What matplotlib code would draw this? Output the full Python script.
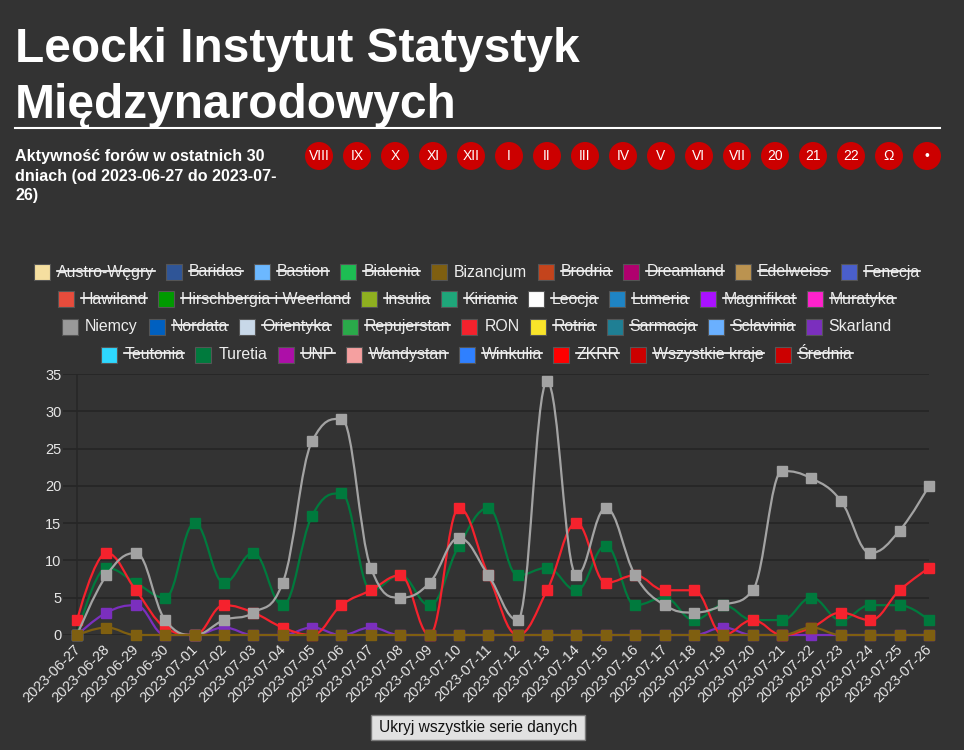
import numpy as np
import matplotlib
matplotlib.use('Agg')
import matplotlib.pyplot as plt
import matplotlib.transforms as mtransforms
from matplotlib.path import Path
from matplotlib.patches import PathPatch, Rectangle, Ellipse
from matplotlib.lines import Line2D

plt.rcParams['font.family'] = ['Liberation Sans', 'DejaVu Sans']

W, H = 964, 750
BG = '#333333'

title_lines = ['Leocki Instytut Statystyk', 'Międzynarodowych']
subtitle_lines = ['Aktywność forów w ostatnich 30',
                  'dniach (od 2023-06-27 do 2023-07-',
                  '26)']
buttons = ['VIII', 'IX', 'X', 'XI', 'XII', 'I', 'II', 'III', 'IV', 'V', 'VI', 'VII',
           '20', '21', '22', 'Ω', '•']

dates = ['2023-06-27', '2023-06-28', '2023-06-29', '2023-06-30', '2023-07-01',
         '2023-07-02', '2023-07-03', '2023-07-04', '2023-07-05', '2023-07-06',
         '2023-07-07', '2023-07-08', '2023-07-09', '2023-07-10', '2023-07-11',
         '2023-07-12', '2023-07-13', '2023-07-14', '2023-07-15', '2023-07-16',
         '2023-07-17', '2023-07-18', '2023-07-19', '2023-07-20', '2023-07-21',
         '2023-07-22', '2023-07-23', '2023-07-24', '2023-07-25', '2023-07-26']

bizancjum = [0, 1, 0, 0, 0, 0, 0, 0, 0, 0, 0, 0, 0, 0, 0,
             0, 0, 0, 0, 0, 0, 0, 0, 0, 0, 1, 0, 0, 0, 0]
niemcy = [0, 8, 11, 2, 0, 2, 3, 7, 26, 29, 9, 5, 7, 13, 8,
          2, 34, 8, 17, 8, 4, 3, 4, 6, 22, 21, 18, 11, 14, 20]
ron = [2, 11, 6, 1, 0, 4, 3, 1, 0, 4, 6, 8, 0, 17, 8,
       0, 6, 15, 7, 8, 6, 6, 0, 2, 0, 1, 3, 2, 6, 9]
skarland = [0, 3, 4, 0, 0, 1, 0, 0, 1, 0, 1, 0, 0, 0, 0,
            0, 0, 0, 0, 0, 0, 0, 1, 0, 0, 0, 0, 0, 0, 0]
turetia = [0, 9, 7, 5, 15, 7, 11, 4, 16, 19, 6, 8, 4, 12, 17,
           8, 9, 6, 12, 4, 5, 2, 4, 2, 2, 5, 2, 4, 4, 2]

series = [('Bizancjum', bizancjum, '#7f5f10'),
          ('Niemcy', niemcy, '#a3a3a3'),
          ('RON', ron, '#f5222d'),
          ('Skarland', skarland, '#7b2fbe'),
          ('Turetia', turetia, '#007a3d')]

legend_rows = [
    ['Austro-Węgry', 'Baridas', 'Bastion', 'Bialenia', 'Bizancjum', 'Brodria',
     'Dreamland', 'Edelweiss', 'Fenecja'],
    ['Hawiland', 'Hirschbergia i Weerland', 'Insulia', 'Kiriania', 'Leocja',
     'Lumeria', 'Magnifikat', 'Muratyka'],
    ['Niemcy', 'Nordata', 'Orientyka', 'Repujerstan', 'RON', 'Rotria',
     'Sarmacja', 'Sclavinia', 'Skarland'],
    ['Teutonia', 'Turetia', 'UNP', 'Wandystan', 'Winkulia', 'ZKRR',
     'Wszystkie kraje', 'Średnia'],
]
legend_colors = {
    'Austro-Węgry': '#f5dfa0', 'Baridas': '#2f5597', 'Bastion': '#6cb8ff',
    'Bialenia': '#1dbd53', 'Bizancjum': '#7f5f10', 'Brodria': '#c4441c',
    'Dreamland': '#b0006e', 'Edelweiss': '#bb9350', 'Fenecja': '#4a5fcc',
    'Hawiland': '#e74c3c', 'Hirschbergia i Weerland': '#009a00', 'Insulia': '#8fb020',
    'Kiriania': '#1fa67a', 'Leocja': '#ffffff', 'Lumeria': '#1f84c4',
    'Magnifikat': '#aa11ff', 'Muratyka': '#ff22cc', 'Niemcy': '#999999',
    'Nordata': '#0060c0', 'Orientyka': '#c8d8e8', 'Repujerstan': '#2aaa4a',
    'RON': '#f5222d', 'Rotria': '#f9e42a', 'Sarmacja': '#1f7f94',
    'Sclavinia': '#6ab0ff', 'Skarland': '#7b2fbe', 'Teutonia': '#2ed8ff',
    'Turetia': '#007a3d', 'UNP': '#ad0fa8', 'Wandystan': '#f5a0a0',
    'Winkulia': '#2f80ff', 'ZKRR': '#ff0000', 'Wszystkie kraje': '#cc0000',
    'Średnia': '#cc0000',
}
visible = [s[0] for s in series]


def fx(x):
    return x / W


def fy(y):
    return 1 - y / H


def spline_path(xs, ys, smoothing=1.5):
    # highcharts-like spline: cubic bezier with clamped control points
    n = len(xs)
    verts = [(xs[0], ys[0])]
    codes = [Path.MOVETO]
    rc = [(xs[i], ys[i]) for i in range(n)]
    lc = [(xs[i], ys[i]) for i in range(n)]
    d = smoothing + 1
    for i in range(1, n - 1):
        px_, py_ = xs[i], ys[i]
        lx, ly = xs[i - 1], ys[i - 1]
        nx, ny = xs[i + 1], ys[i + 1]
        lcx = (smoothing * px_ + lx) / d
        lcy = (smoothing * py_ + ly) / d
        rcx = (smoothing * px_ + nx) / d
        rcy = (smoothing * py_ + ny) / d
        corr = 0
        if rcx != lcx:
            corr = (rcy - lcy) * (rcx - px_) / (rcx - lcx) + py_ - rcy
        lcy += corr
        rcy += corr
        if lcy > ly and lcy > py_:
            lcy = max(ly, py_)
            rcy = 2 * py_ - lcy
        elif lcy < ly and lcy < py_:
            lcy = min(ly, py_)
            rcy = 2 * py_ - lcy
        if rcy > ny and rcy > py_:
            rcy = max(ny, py_)
            lcy = 2 * py_ - rcy
        elif rcy < ny and rcy < py_:
            rcy = min(ny, py_)
            lcy = 2 * py_ - rcy
        lc[i] = (lcx, lcy)
        rc[i] = (rcx, rcy)
    for i in range(1, n):
        verts += [rc[i - 1], lc[i], (xs[i], ys[i])]
        codes += [Path.CURVE4] * 3
    return Path(verts, codes)


fig = plt.figure(figsize=(W / 100, H / 100), dpi=100, facecolor=BG)

# header
fig.text(fx(15), fy(62), title_lines[0], fontsize=34.5, weight='bold', color='white', va='baseline')
fig.text(fx(15), fy(118), title_lines[1], fontsize=34.5, weight='bold', color='white', va='baseline')
fig.add_artist(Line2D([fx(15), fx(940)], [fy(128), fy(128)], color='white', lw=1.5))
for k, line in enumerate(subtitle_lines):
    fig.text(fx(15), fy(161 + 19.5 * k), line, fontsize=11.6, weight='bold', color='white', va='baseline')

for k, lab in enumerate(buttons):
    cx = 319 + 38 * k
    fig.add_artist(Ellipse((fx(cx), fy(156)), 28 / W, 28 / H, transform=fig.transFigure,
                           facecolor='#cc0000', edgecolor='none'))
    fig.text(fx(cx), fy(156), lab, fontsize=10, color='white', ha='center', va='center')

# legend
renderer = fig.canvas.get_renderer()
row_y = [272, 299.5, 327, 354.5]
for r, row in enumerate(legend_rows):
    yc = row_y[r]
    texts = []
    widths = []
    for name in row:
        t = fig.text(0, fy(yc), name, fontsize=11.4, color='#eeeeee', va='center', ha='left')
        texts.append(t)
        widths.append(t.get_window_extent(renderer).width)
    total = sum(23 + w for w in widths) + 11 * (len(row) - 1)
    x = 477 - total / 2
    for name, t, w in zip(row, texts, widths):
        fig.add_artist(Rectangle((fx(x), fy(yc + 8)), 16 / W, 16 / H, transform=fig.transFigure,
                                 facecolor=legend_colors[name], edgecolor='#555555', lw=0.8))
        t.set_x(fx(x + 23))
        if name not in visible:
            fig.add_artist(Line2D([fx(x + 23), fx(x + 23 + w)], [fy(yc - 1.5)] * 2,
                                  color='white', lw=1.2))
        x += 23 + w + 11

# chart
ax = fig.add_axes([63 / W, 115 / H, (929 - 63) / W, (635 - 374) / H])
ax.set_facecolor(BG)
for s in ax.spines.values():
    s.set_visible(False)
ax.set_xlim(-0.48, 29)
ax.set_ylim(0, 35)
ax.set_yticks(range(0, 36, 5))
ax.yaxis.grid(True, color='#262626', lw=1.3)
ax.set_axisbelow(True)
ax.axvline(0, color='#262626', lw=1.1, zorder=0.5)
ax.tick_params(length=0, colors='#e6e6e6', labelsize=10.5, pad=1)
x = np.arange(len(dates))
ax.set_xticks(x)
ax.set_xticklabels(dates, rotation=45, ha='right', va='top', rotation_mode='anchor',
                   fontsize=10.5)
ax.tick_params(axis='x', pad=5)
offset = mtransforms.ScaledTranslation(-4 / 100, 0, fig.dpi_scale_trans)
for lab in ax.get_xticklabels():
    lab.set_transform(lab.get_transform() + offset)

for i, (name, vals, col) in enumerate(series):
    z = 20 - 2 * i
    path = spline_path(list(x), list(vals))
    ax.add_patch(PathPatch(path, facecolor='none', edgecolor=col, lw=1.6, zorder=z, clip_on=False))
    ax.plot(x, vals, 's', color=col, markersize=7, zorder=z + 0.5, clip_on=False)

# bottom button
fig.add_artist(Rectangle((fx(371), fy(740)), 214 / W, 25 / H, transform=fig.transFigure,
                         facecolor='#e1e1e1', edgecolor='#7a7a7a', lw=1))
fig.text(fx(478), fy(727.5), 'Ukryj wszystkie serie danych', fontsize=11.2, color='#111111',
         ha='center', va='center')

fig.savefig('out.png', dpi=100, facecolor=BG)
